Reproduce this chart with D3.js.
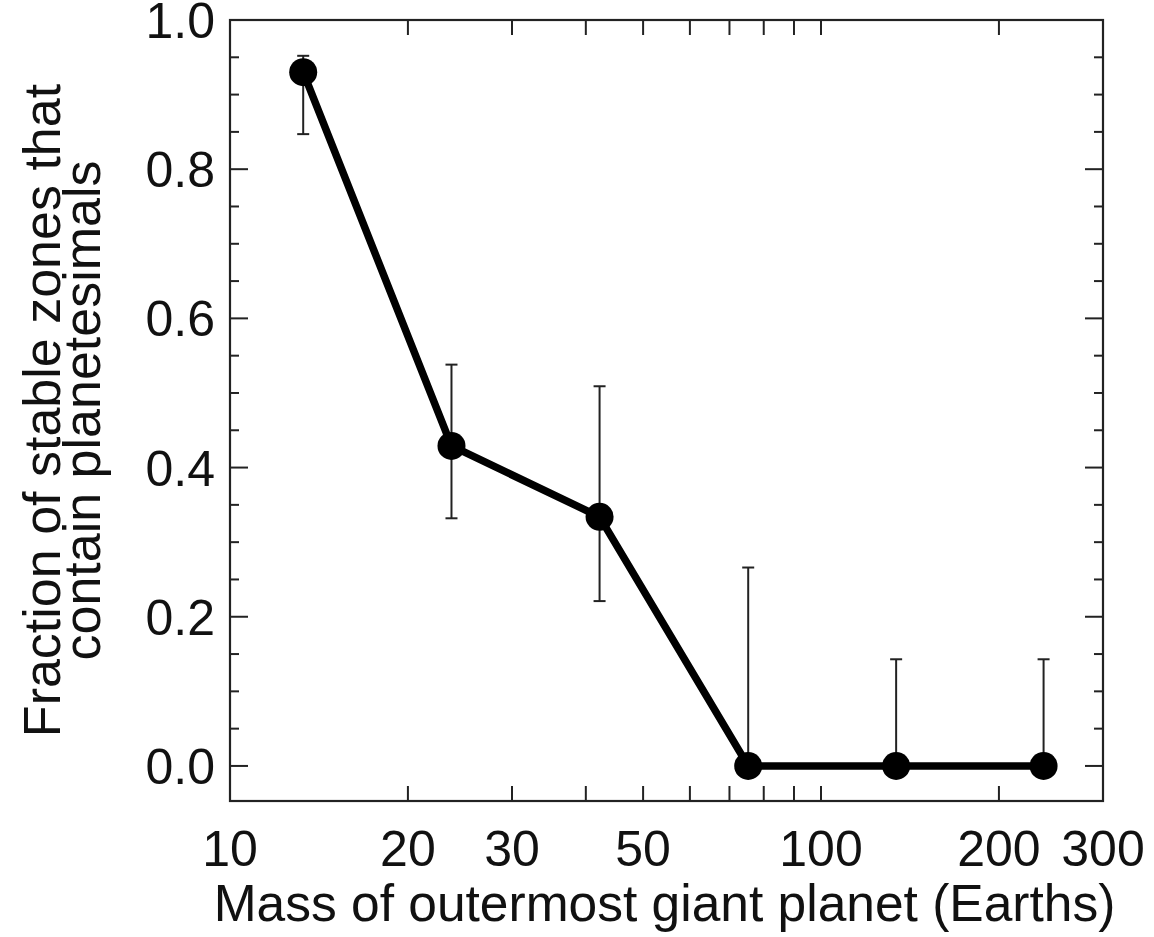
<!DOCTYPE html>
<html>
<head>
<meta charset="utf-8">
<script src="https://cdn.jsdelivr.net/npm/d3@7/dist/d3.min.js"></script>
<style>
  html, body { margin: 0; padding: 0; background: #fff; }
  svg { display: block; }
  text { font-family: "Liberation Sans", Arial, Helvetica, sans-serif; fill: #111; }
</style>
</head>
<body>
<svg id="chart" width="1154" height="937"></svg>
<script>
// ---- data ----
const masses      = [13.3, 23.7, 42.2, 75.3, 134, 238];      // Earth masses
const fractions   = [0.930, 0.429, 0.334, 0.0, 0.0, 0.0];
const errLow      = [0.847, 0.332, 0.221, 0.0, 0.0, 0.0];
const errHigh     = [0.952, 0.538, 0.509, 0.266, 0.143, 0.143];

const xTickLabels = [10, 20, 30, 50, 100, 200, 300];
const xTickMarks  = [20, 30, 40, 50, 60, 70, 80, 90, 100, 200];
const yTickLabels = [0.0, 0.2, 0.4, 0.6, 0.8, 1.0];
const yMinorTicks = [0.05, 0.1, 0.15, 0.25, 0.3, 0.35, 0.45, 0.5, 0.55, 0.65, 0.7, 0.75, 0.85, 0.9, 0.95];
const xLabel = "Mass of outermost giant planet (Earths)";
const yLabelLines = ["Fraction of stable zones that", "contain planetesimals"];

// ---- layout ----
const L = 230, R = 1103, T = 20, B = 801;
const svg = d3.select("#chart");
const x = d3.scaleLog().domain([10, 300]).range([L, R]);
const y = d3.scaleLinear().domain([-0.047, 1.0]).range([B, T]);
const axisColor = "#222";

// frame
svg.append("rect").attr("x", L).attr("y", T).attr("width", R - L).attr("height", B - T)
  .attr("fill", "none").attr("stroke", axisColor).attr("stroke-width", 2.2);

// x tick marks (bottom and top)
const xt = svg.append("g").attr("stroke", axisColor).attr("stroke-width", 2);
xTickMarks.forEach(v => {
  xt.append("line").attr("x1", x(v)).attr("x2", x(v)).attr("y1", B).attr("y2", B - 15);
  xt.append("line").attr("x1", x(v)).attr("x2", x(v)).attr("y1", T).attr("y2", T + 15);
});
// y tick marks (left and right)
yTickLabels.forEach(v => {
  xt.append("line").attr("x1", L).attr("x2", L + 18).attr("y1", y(v)).attr("y2", y(v));
  xt.append("line").attr("x1", R).attr("x2", R - 18).attr("y1", y(v)).attr("y2", y(v));
});
yMinorTicks.forEach(v => {
  xt.append("line").attr("x1", L).attr("x2", L + 9).attr("y1", y(v)).attr("y2", y(v));
  xt.append("line").attr("x1", R).attr("x2", R - 9).attr("y1", y(v)).attr("y2", y(v));
});

// tick labels
svg.append("g").selectAll("text").data(xTickLabels).join("text")
  .attr("x", d => x(d)).attr("y", 866)
  .attr("text-anchor", "middle").attr("font-size", 50)
  .text(d => d);
svg.append("g").selectAll("text").data(yTickLabels).join("text")
  .attr("x", 215).attr("y", d => y(d) + 18)
  .attr("text-anchor", "end").attr("font-size", 50)
  .text(d => d.toFixed(1));

// axis titles
svg.append("text").attr("x", (L + R) / 2 - 2).attr("y", 921)
  .attr("text-anchor", "middle").attr("font-size", 51.5).text(xLabel);
const yl = svg.append("text").attr("text-anchor", "middle").attr("font-size", 52)
  .attr("transform", `translate(60, ${(T + B) / 2}) rotate(-90)`);
yl.append("tspan").attr("x", 0).attr("y", 0).text(yLabelLines[0]);
yl.append("tspan").attr("x", 0).attr("y", 40).text(yLabelLines[1]);

// data
const pts = masses.map((m, i) => ({ m, f: fractions[i], lo: errLow[i], hi: errHigh[i] }));

// error bars
const eb = svg.append("g").attr("stroke", axisColor).attr("stroke-width", 2);
pts.forEach(p => {
  eb.append("line").attr("x1", x(p.m)).attr("x2", x(p.m)).attr("y1", y(p.lo)).attr("y2", y(p.hi));
  eb.append("line").attr("x1", x(p.m) - 6).attr("x2", x(p.m) + 6).attr("y1", y(p.hi)).attr("y2", y(p.hi));
  eb.append("line").attr("x1", x(p.m) - 6).attr("x2", x(p.m) + 6).attr("y1", y(p.lo)).attr("y2", y(p.lo));
});

// line
svg.append("path").datum(pts)
  .attr("fill", "none").attr("stroke", "#000").attr("stroke-width", 7.5).attr("stroke-linejoin", "round")
  .attr("d", d3.line().x(d => x(d.m)).y(d => y(d.f)));

// markers
svg.append("g").selectAll("circle").data(pts).join("circle")
  .attr("cx", d => x(d.m)).attr("cy", d => y(d.f)).attr("r", 14).attr("fill", "#000");
</script>
</body>
</html>
